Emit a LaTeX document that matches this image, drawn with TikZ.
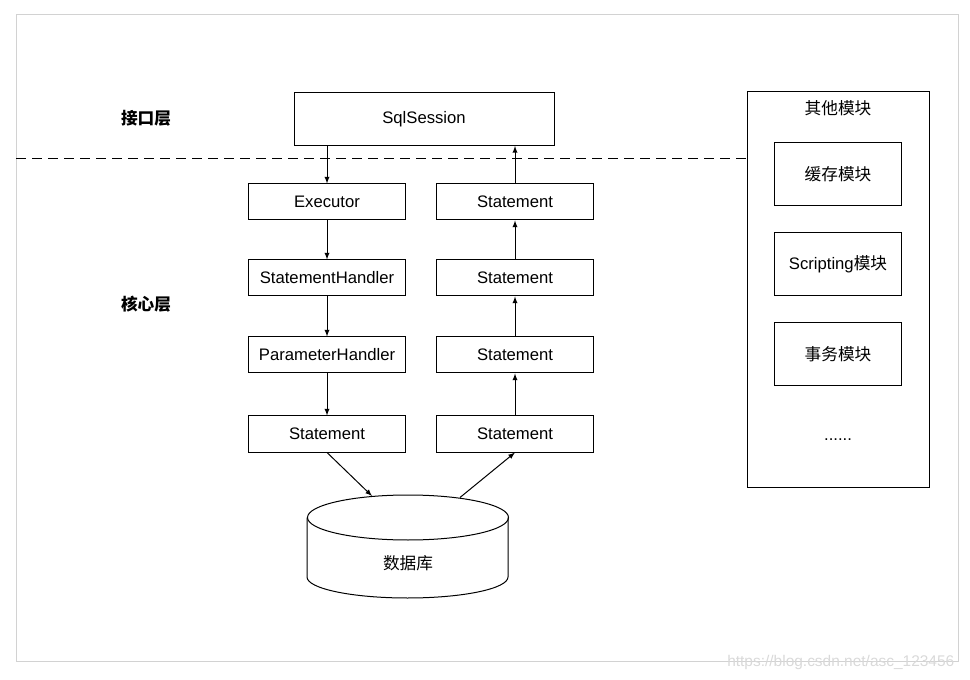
\documentclass[tikz,border=0pt]{standalone}
\usepackage{fontspec}
\setmainfont{Liberation Sans}
\newfontfamily\cjk{Noto Sans CJK SC}
\usetikzlibrary{arrows}
\begin{document}
\begin{tikzpicture}[x=0.75pt, y=-0.75pt,
        every node/.style={font=\fontsize{12.5}{14}\selectfont},
        box/.style={draw, line width=0.75pt, inner sep=0pt, minimum width=117.75pt, minimum height=27pt},
        modbox/.style={draw, line width=0.75pt, inner sep=0pt, minimum width=95.25pt, minimum height=47.25pt},
        flow/.style={-latex, line width=0.75pt}]
        \useasboundingbox (0, 0) rectangle (970, 680);
        \draw[gray!35, line width=0.75pt] (16, 15) rectangle (958, 661);
        % layer labels
        \node (api) at (146, 118) {\cjk\bfseries 接口层};
        \node (core) at (146, 304) {\cjk\bfseries 核心层};
        % other modules
        \node[draw, line width=0.75pt, minimum width=136.5pt, minimum height=296.25pt] (others) at (838, 289.5) {};
        \node (otherstitle) at (838, 108) {\cjk 其他模块};
        \node[modbox] (cache) at (838, 174.5) {\cjk 缓存模块};
        \node[modbox] (scripting) at (838, 264.5) {Scripting{\cjk 模块}};
        \node[modbox] (trans) at (838, 354.5) {\cjk 事务模块};
        \node (more) at (838, 440) {......};
        \draw[dash pattern=on 7.5pt off 4.5pt, line width=0.75pt] (16, 158.5) -- (others.west |- 0, 158.5);
        % main flow
        \node[box, minimum width=195pt, minimum height=39.75pt] (sqlsession) at (424, 119) {SqlSession};
        \node[box] (executor) at (327, 202) {Executor};
        \node[box] (stmthandler) at (327, 278) {StatementHandler};
        \node[box] (paramhandler) at (327, 355) {ParameterHandler};
        \node[box] (stmtL) at (327, 434) {Statement};
        \node[box] (stmtR4) at (515, 434) {Statement};
        \node[box] (stmtR3) at (515, 355) {Statement};
        \node[box] (stmtR2) at (515, 278) {Statement};
        \node[box] (stmtR1) at (515, 202) {Statement};
        \draw[flow] (sqlsession.south -| executor) -- (executor);
        \draw[flow] (executor) -- (stmthandler);
        \draw[flow] (stmthandler) -- (paramhandler);
        \draw[flow] (paramhandler) -- (stmtL);
        \draw[flow] (stmtR4) -- (stmtR3);
        \draw[flow] (stmtR3) -- (stmtR2);
        \draw[flow] (stmtR2) -- (stmtR1);
        \draw[flow] (stmtR1) -- (sqlsession.south -| stmtR1);
        % database
        \draw[line width=0.75pt] (307, 517.5) -- (307, 577) arc[start angle=180, end angle=0, x radius=100.5, y radius=21]
            -- (508, 517.5);
        \draw[line width=0.75pt] (408, 517.5) ellipse[x radius=100.5, y radius=22.5];
        \node (db) at (408, 563) {\cjk 数据库};
        \coordinate (dbin) at (372, 496);
        \coordinate (dbout) at (460, 497.5);
        \draw[flow] (stmtL.south) -- (dbin);
        \draw[flow] (dbout) -- (stmtR4.south);
        \node[anchor=east, text=gray!30, font=\fontsize{11.6}{13}\selectfont] (mark) at (959, 662) {https://blog.csdn.net/asc\_123456};
\end{tikzpicture}
\end{document}
